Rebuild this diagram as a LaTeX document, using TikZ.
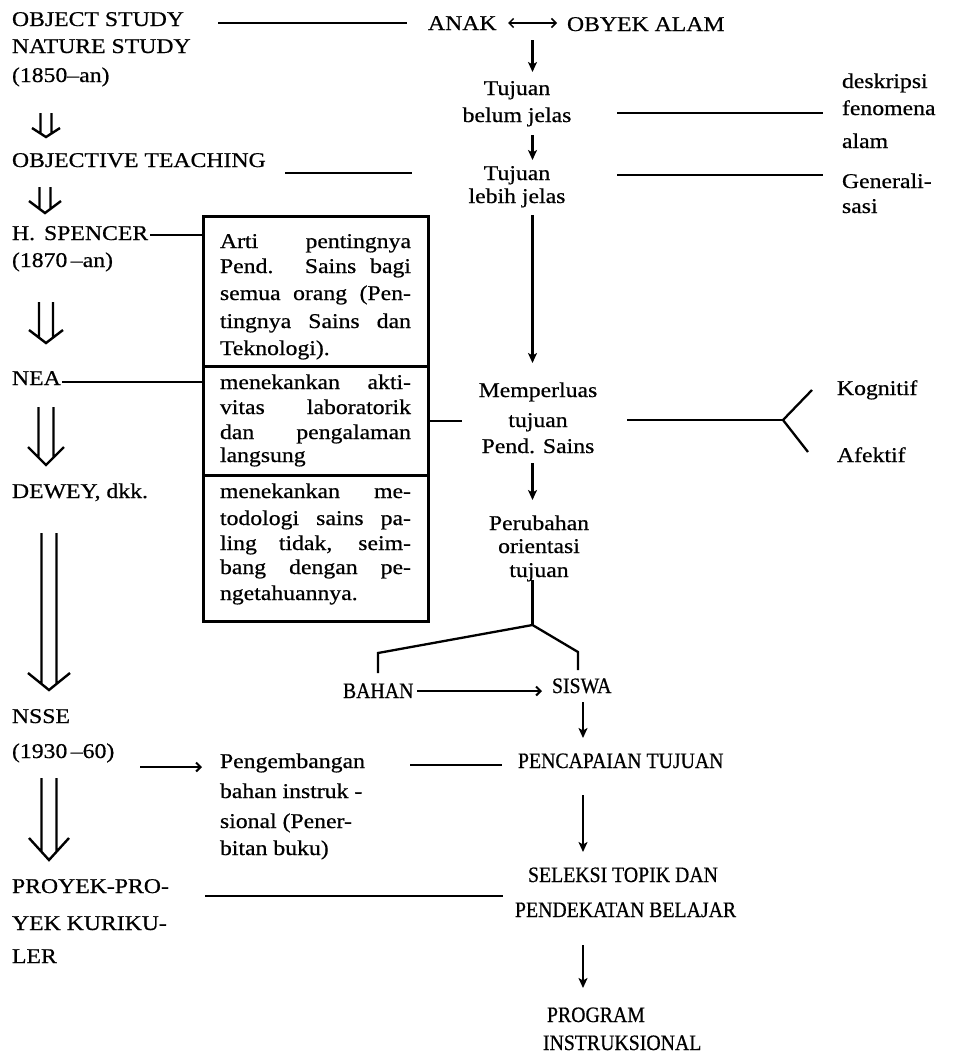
\documentclass[tikz,border=0pt]{standalone}
\usepackage{fontspec}
\setmainfont{Liberation Serif}[FakeStretch=1.13,FakeBold=0.6]
\newfontfamily\narrowcaps{Liberation Serif}[FakeStretch=0.9,FakeBold=0.6]
\usetikzlibrary{arrows.meta,calc}
\newcommand\jline[1]{\makebox[191pt][s]{#1}}
\begin{document}
\begin{tikzpicture}[x=1pt,y=-1pt,
  txt/.style={inner sep=0pt,outer sep=0pt,font=\fontsize{21}{25}\selectfont},
  capstxt/.style={inner sep=0pt,outer sep=0pt,font=\narrowcaps\fontsize{22}{26}\selectfont},
  panel/.style={draw,line width=2.7pt,minimum width=225pt,anchor=north west,inner sep=0pt},
  ln/.style={line width=2.3pt},
  arr/.style={line width=2.3pt,-{Stealth[length=10pt,width=9pt,inset=2.5pt]}},
  thinarr/.style={line width=2pt,-{Straight Barb[length=4.5pt,width=9pt]}},
  both/.style={line width=1.5pt,{Straight Barb[length=4.5pt,width=9pt]}-{Straight Barb[length=4.5pt,width=9pt]}},
  dbl/.style n args={3}{line width=2.4pt,to path={let \p1=(\tikztostart), \p2=(\tikztotarget) in
     (\x1-#1pt,\y1) -- (\x1-#1pt,{\y2+#1*#3/#2*1pt})
     (\x1+#1pt,\y1) -- (\x1+#1pt,{\y2+#1*#3/#2*1pt})
     (\x1-#2pt,\y2+#3pt) -- (\x1,\y2) -- (\x1+#2pt,\y2+#3pt)}},
]
\fill[white] (0,0) rectangle (959,1055);
\useasboundingbox (0,0) rectangle (959,1055);

% historical column
\node[txt,anchor=base west] (os1) at (12,26) {OBJECT STUDY};
\node[txt,anchor=base west] (os2) at (12,53) {NATURE STUDY};
\node[txt,anchor=base west] (os3) at (12,82) {(1850–an)};
\node[txt,anchor=base west] (ot) at (12,167) {OBJECTIVE TEACHING};
\node[txt,anchor=base west] (sp1) at (12,240) {H.\hspace{9pt}SPENCER};
\node[txt,anchor=base west] (sp2) at (12,267) {(1870\,–an)};
\node[txt,anchor=base west] (nea) at (12,385) {NEA};
\node[txt,anchor=base west] (dew) at (12,498) {DEWEY, dkk.};
\node[txt,anchor=base west] (ns1) at (12,723) {NSSE};
\node[txt,anchor=base west] (ns2) at (12,758) {(1930\,–60)};
\node[txt,anchor=base west] (pp1) at (12,893) {PROYEK-PRO-};
\node[txt,anchor=base west] (pp2) at (12,930) {YEK KURIKU-};
\node[txt,anchor=base west] (pp3) at (12,963) {LER};

% three-part box
\node[panel,minimum height=150pt] (bx1) at (202,215) {};
\node[panel,minimum height=109pt] (bx2) at (202,365) {};
\node[panel,minimum height=146pt] (bx3) at (202,474) {};
\node[txt,anchor=base west] (a1) at (220,248) {\jline{Arti pentingnya}};
\node[txt,anchor=base west] (a2) at (220,273) {\jline{Pend. Sains bagi}};
\node[txt,anchor=base west] (a3) at (220,300) {\jline{semua orang (Pen-}};
\node[txt,anchor=base west] (a4) at (220,328) {\jline{tingnya Sains dan}};
\node[txt,anchor=base west] (a5) at (220,355) {Teknologi).};
\node[txt,anchor=base west] (c1) at (220,389) {\jline{menekankan akti-}};
\node[txt,anchor=base west] (c2) at (220,414) {\jline{vitas laboratorik}};
\node[txt,anchor=base west] (c3) at (220,439) {\jline{dan pengalaman}};
\node[txt,anchor=base west] (c4) at (220,462) {langsung};
\node[txt,anchor=base west] (d1) at (220,498) {\jline{menekankan me-}};
\node[txt,anchor=base west] (d2) at (220,525) {\jline{todologi sains pa-}};
\node[txt,anchor=base west] (d3) at (220,550) {\jline{ling tidak, seim-}};
\node[txt,anchor=base west] (d4) at (220,574) {\jline{bang dengan pe-}};
\node[txt,anchor=base west] (d5) at (220,600) {ngetahuannya.};

% central column
\node[txt,anchor=base west] (anak) at (428,30) {ANAK};
\node[txt,anchor=base west] (obyek) at (567,31) {OBYEK ALAM};
\node[txt,anchor=base] (tja) at (517,95) {Tujuan};
\node[txt,anchor=base] (tjb) at (517,122) {belum jelas};
\node[txt,anchor=base] (tla) at (517,180) {Tujuan};
\node[txt,anchor=base] (tlb) at (517,203) {lebih jelas};
\node[txt,anchor=base] (me1) at (538,397) {Memperluas};
\node[txt,anchor=base] (me2) at (538,427) {tujuan};
\node[txt,anchor=base] (me3) at (538,453) {Pend. Sains};
\node[txt,anchor=base] (pr1) at (539,530) {Perubahan};
\node[txt,anchor=base] (pr2) at (539,553) {orientasi};
\node[txt,anchor=base] (pr3) at (539,577) {tujuan};
\node[capstxt,anchor=base west] (bahan) at (343,698) {BAHAN};
\node[capstxt,anchor=base west] (siswa) at (552,693) {SISWA};
\node[txt,anchor=base west] (pg1) at (220,768) {Pengembangan};
\node[txt,anchor=base west] (pg2) at (220,798) {bahan instruk -};
\node[txt,anchor=base west] (pg3) at (220,828) {sional (Pener-};
\node[txt,anchor=base west] (pg4) at (220,855) {bitan buku)};
\node[capstxt,anchor=base west] (pcp) at (518,768) {PENCAPAIAN TUJUAN};
\node[capstxt,anchor=base west] (sl1) at (528,882) {SELEKSI TOPIK DAN};
\node[capstxt,anchor=base west] (sl2) at (515,917) {PENDEKATAN BELAJAR};
\node[capstxt,anchor=base west] (prA) at (547,1022) {PROGRAM};
\node[capstxt,anchor=base west] (prB) at (543,1050) {INSTRUKSIONAL};

% right column
\node[txt,anchor=base west] (ds1) at (842,88) {deskripsi};
\node[txt,anchor=base west] (ds2) at (842,115) {fenomena};
\node[txt,anchor=base west] (ds3) at (842,148) {alam};
\node[txt,anchor=base west] (gn1) at (842,188) {Generali-};
\node[txt,anchor=base west] (gn2) at (842,213) {sasi};
\node[txt,anchor=base west] (kog) at (837,395) {Kognitif};
\node[txt,anchor=base west] (afe) at (837,462) {Afektif};

% succession arrows on the left
\draw[dbl={5.5}{14}{9}] ([shift={(34,31)}]os3.base west) to ([shift={(34,-30)}]ot.base west);
\draw[dbl={5.5}{16}{12}] ([shift={(33,20)}]ot.base west) to ([shift={(33,-27)}]sp1.base west);
\draw[dbl={7}{17}{13}] ([shift={(34,35)}]sp2.base west) to ([shift={(34,-42)}]nea.base west);
\draw[dbl={7.5}{18}{18}] ([shift={(34,22)}]nea.base west) to ([shift={(34,-33)}]dew.base west);
\draw[dbl={7.5}{21}{17}] ([shift={(37,35)}]dew.base west) to ([shift={(37,-33)}]ns1.base west);
\draw[dbl={7.5}{20}{22}] ([shift={(37,20)}]ns2.base west) to ([shift={(37,-33)}]pp1.base west);

% horizontal links
\draw[ln] ([shift={(206,-3)}]os1.base west) -- ([shift={(-21,-3)}]os1.base west -| anak.base west);
\draw[ln] ([shift={(273,6)}]ot.base west) -- ([shift={(-72,6)}]ot.base west -| tla.base west);
\draw[ln] ([shift={(100,-9)}]tjb.base) -- ([shift={(-19,-9)}]tjb.base -| ds2.base west);
\draw[ln] ([shift={(100,-5)}]tla.base) -- ([shift={(-19,-5)}]tla.base -| gn1.base west);
\draw[ln] ([shift={(2,-5)}]sp1.base east) -- ([shift={(0,-5)}]sp1.base east -| bx1.west);
\draw[ln] ([shift={(1,-3)}]nea.base east) -- ([shift={(0,-3)}]nea.base east -| bx2.west);
\draw[ln] (bx2.east) -- ([shift={(-76,0)}]bx2.east -| me2.base);
\coordinate (fk) at ([shift={(245,-7)}]me2.base);
\draw[ln] ([shift={(89,-7)}]me2.base) -- (fk);
\draw[ln] ([shift={(-25,-5)}]kog.base west) -- (fk) -- ([shift={(-29,-10)}]afe.base west);
\draw[thinarr] ([shift={(128,9)}]ns2.base west) -- ([shift={(-18,9)}]ns2.base west -| pg1.base west);
\draw[ln] ([shift={(190,-3)}]pg1.base west) -- ([shift={(-16,-3)}]pg1.base west -| pcp.base west);
\draw[ln] ([shift={(193,3)}]pp1.base west) -- ([shift={(-25,3)}]pp1.base west -| sl1.base west);

% main chain
\draw[both] ([shift={(80,-7)}]anak.base west) -- ([shift={(-10,-7)}]anak.base west -| obyek.base west) coordinate[midway] (ao);
\draw[arr] ([shift={(0,17)}]ao) -- ([shift={(0,-23)}]ao |- tja.base);
\draw[arr] ([shift={(0,13)}]ao |- tjb.base) -- ([shift={(0,-20)}]ao |- tla.base);
\draw[arr] ([shift={(0,12)}]ao |- tlb.base) -- ([shift={(0,-34)}]ao |- me1.base);
\draw[arr] ([shift={(0,10)}]ao |- me3.base) -- ([shift={(0,-30)}]ao |- pr1.base);
\coordinate (pf) at ([shift={(0,48)}]ao |- pr3.base);
\draw[ln] ([shift={(0,3)}]ao |- pr3.base) -- (pf);
\draw[ln] ([shift={(35,-25)}]bahan.base west) -- ([shift={(35,-45)}]bahan.base west) -- (pf)
  -- ([shift={(26,-41)}]siswa.base west) -- ([shift={(26,-23)}]siswa.base west);
\draw[thinarr] ([shift={(74,-7)}]bahan.base west) -- ([shift={(-10,-7)}]bahan.base west -| siswa.base west);
\draw[arr] ([shift={(31,9)}]siswa.base west) -- ([shift={(31,-30)}]siswa.base west |- pcp.base);
\draw[arr] ([shift={(31,27)}]siswa.base west |- pcp.base) -- ([shift={(31,-30)}]siswa.base west |- sl1.base);
\draw[arr] ([shift={(31,28)}]siswa.base west |- sl2.base) -- ([shift={(31,-34)}]siswa.base west |- prA.base);
\end{tikzpicture}
\end{document}
